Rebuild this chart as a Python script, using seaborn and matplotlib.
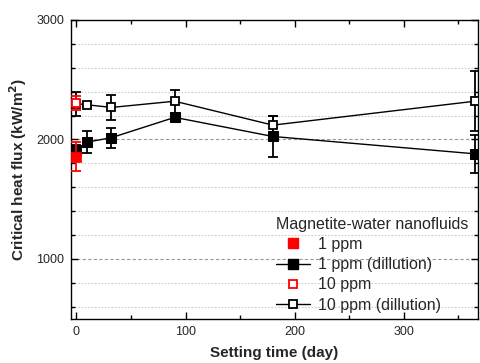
import matplotlib
matplotlib.use("Agg")
import matplotlib.pyplot as plt
import seaborn as sns
import pandas as pd
import numpy as np
from matplotlib.lines import Line2D
from matplotlib.ticker import MultipleLocator

# Data
days_dil = [0, 10, 32, 90, 180, 365]
chf_1ppm_dil = [1915, 1978, 2015, 2185, 2025, 1880]
err_1ppm_dil = [40, 95, 85, 30, 170, 160]
chf_10ppm_dil = [2300, 2290, 2268, 2320, 2120, 2320]
err_10ppm_dil = [100, 20, 105, 95, 75, 250]
days_base = [0]
chf_1ppm = [1855]
err_1ppm = [120]
chf_10ppm = [2305]
err_10ppm = [55]

sns.set_theme(style="ticks")
plt.rcParams['font.family'] = ['Liberation Sans', 'DejaVu Sans']

fig = plt.figure(figsize=(4.8, 3.63), dpi=100)
ax = fig.add_axes([0.148, 0.122, 0.848, 0.823])

# gridlines
for y in np.arange(600, 3000, 200):
    if y in (1000, 2000):
        ax.axhline(y, color='#999999', lw=0.8, ls=(0, (3, 2)), zorder=0)
    else:
        ax.axhline(y, color='#cccccc', lw=0.8, ls=(0, (1.5, 1.5)), zorder=0)

df1 = pd.DataFrame({'day': days_dil, 'chf': chf_1ppm_dil})
df10 = pd.DataFrame({'day': days_dil, 'chf': chf_10ppm_dil})

ax.errorbar(days_dil, chf_10ppm_dil, yerr=err_10ppm_dil, fmt='none', ecolor='black',
            elinewidth=1.3, capsize=3.8, capthick=1.3, zorder=2)
ax.errorbar(days_dil, chf_1ppm_dil, yerr=err_1ppm_dil, fmt='none', ecolor='black',
            elinewidth=1.3, capsize=3.8, capthick=1.3, zorder=2)

sns.lineplot(data=df10, x='day', y='chf', ax=ax, color='black', lw=1.0, marker='s',
             markersize=5.5, markerfacecolor='white', markeredgecolor='black',
             markeredgewidth=1.3, sort=False, zorder=3)
sns.lineplot(data=df1, x='day', y='chf', ax=ax, color='black', lw=1.0, marker='s',
             markersize=6.5, markerfacecolor='black', markeredgecolor='black',
             sort=False, zorder=3)

ax.errorbar(days_base, chf_1ppm, yerr=err_1ppm, fmt='none', ecolor='red',
            elinewidth=1.3, capsize=3.8, capthick=1.3, zorder=4)
ax.errorbar(days_base, chf_10ppm, yerr=err_10ppm, fmt='none', ecolor='red',
            elinewidth=1.3, capsize=3.8, capthick=1.3, zorder=4)
sns.scatterplot(x=days_base, y=chf_1ppm, ax=ax, marker='s', s=45, color='red',
                edgecolor='red', zorder=5)
sns.scatterplot(x=days_base, y=chf_10ppm, ax=ax, marker='s', s=32, facecolor='white',
                edgecolor='red', linewidth=1.3, zorder=5)

ax.set_xlim(-5, 368)
ax.set_ylim(500, 3000)
ax.xaxis.set_major_locator(MultipleLocator(100))
ax.xaxis.set_minor_locator(MultipleLocator(50))
ax.yaxis.set_major_locator(MultipleLocator(1000))
ax.yaxis.set_minor_locator(MultipleLocator(200))
ax.tick_params(which='both', direction='in', top=True, right=True, labelsize=9, color='black', width=1.0)
ax.tick_params(which='major', length=5, pad=5)
ax.tick_params(which='minor', length=3)
for s in ax.spines.values():
    s.set_color('black')
    s.set_linewidth(1.0)

ax.set_xlabel('Setting time (day)', fontsize=11, fontweight='bold', labelpad=6)
ax.set_ylabel('Critical heat flux (kW/m$^\\mathbf{2}$)', fontsize=11, fontweight='bold', labelpad=5)

handles = [
    Line2D([], [], ls='none', marker='s', ms=6.5, color='red'),
    Line2D([], [], color='black', lw=1.0, marker='s', ms=6.5, mfc='black'),
    Line2D([], [], ls='none', marker='s', ms=5.5, mfc='white', mec='red', mew=1.3),
    Line2D([], [], color='black', lw=1.0, marker='s', ms=5.5, mfc='white', mec='black', mew=1.3),
]
labels = ['1 ppm', '1 ppm (dillution)', '10 ppm', '10 ppm (dillution)']
leg = ax.legend(handles, labels, title='Magnetite-water nanofluids', loc='lower right',
                frameon=False, fontsize=11.5, title_fontsize=11.5, handlelength=2.1,
                handletextpad=0.5, labelspacing=0.33, borderaxespad=0.2,
                bbox_to_anchor=(1.0, -0.012))
leg._legend_box.align = 'left'

fig.savefig('out.png', dpi=100)
